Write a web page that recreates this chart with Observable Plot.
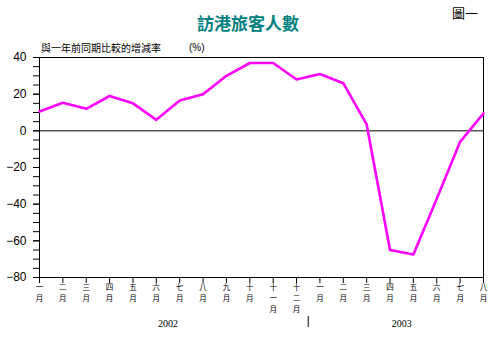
<!DOCTYPE html>
<html>
<head>
<meta charset="utf-8">
<script src="https://cdn.jsdelivr.net/npm/d3@7"></script>
<script src="https://cdn.jsdelivr.net/npm/@observablehq/plot@0.6"></script>
<style>
  html, body { margin: 0; padding: 0; background: #fff; }
  #wrap { position: relative; width: 500px; height: 352px; overflow: hidden; }
  .lbl { position: absolute; white-space: nowrap; line-height: 1; }
</style>
</head>
<body>
<div id="wrap">
  <div class="lbl" style="left:197px;top:10px;font:bold 17px 'Noto Sans CJK TC';color:#008080;letter-spacing:0px">訪港旅客人數</div>
  <div class="lbl" style="left:452px;top:3px;font:13px 'Noto Sans CJK TC';color:#000">圖一</div>
  <div class="lbl" style="left:41px;top:40px;font:10px 'Noto Sans CJK TC';color:#000">與一年前同期比較的增減率</div>
  <div class="lbl" style="left:189px;top:42px;font:10px 'Liberation Sans';color:#000">(%)</div>
</div>
<script>
// Data
const monthLabels = ["一月","二月","三月","四月","五月","六月","七月","八月","九月","十月","十一月","十二月",
                     "一月","二月","三月","四月","五月","六月","七月","八月"];
const growthRate = [10.5, 15.3, 12, 19, 15, 6, 16.5, 20, 30, 37, 37, 28,
                    31, 26, 3.5, -65, -67.5, -37, -6, 9.5];
const years = ["2002", "2003"];
const monthsPerYear = [12, 8];
const yTickLabels = [-80, -60, -40, -20, 0, 20, 40];

const data = growthRate.map((v, i) => ({i, v}));
const n = growthRate.length;
const yMin = d3.min(yTickLabels), yMax = d3.max(yTickLabels);

// year label positions (centers of each year's months) and separators
let start = 0;
const yearData = years.map((y, k) => {
  const c = start + (monthsPerYear[k] - 1) / 2;
  start += monthsPerYear[k];
  return {year: y, x: c};
});
const separators = [monthsPerYear[0] - 0.5];

const chart = Plot.plot({
  width: 500,
  height: 352,
  marginLeft: 39,
  marginRight: 17,
  marginTop: 57,
  marginBottom: 75,
  style: {background: "transparent", color: "#000", fontFamily: "'Liberation Sans', Arial, sans-serif"},
  x: {domain: [0, n - 1], label: null},
  y: {domain: [yMin, yMax], label: null},
  marks: [
    Plot.axisY({ticks: d3.range(yMin, yMax + 1, 5), tickFormat: () => "", tickSize: 6, stroke: "#000", label: null}),
    Plot.axisY({ticks: yTickLabels, tickSize: 6, tickPadding: 7, fontSize: 12, stroke: "#000", label: null,
                fontFamily: "'Liberation Sans', Arial, sans-serif"}),
    Plot.axisX({ticks: d3.range(n), tickSize: 6, tickPadding: -1, fontSize: 7.5, lineHeight: 1.46, label: null,
                fontFamily: "'Noto Sans CJK TC'", stroke: "#000",
                tickFormat: (d) => monthLabels[d].split("").join("\n")}),
    Plot.frame({stroke: "#000", strokeWidth: 1}),
    Plot.ruleY([0], {stroke: "#000", strokeWidth: 1}),
    Plot.line(data, {x: "i", y: "v", stroke: "#ff00ff", strokeWidth: 2.6}),
    Plot.text(yearData, {x: "x", y: () => yMin, text: "year", dy: 46, fontSize: 10,
                         fontFamily: "'Liberation Serif', 'Times New Roman', serif", fill: "#000"}),
    Plot.ruleX(separators, {y1: () => yMin, y2: () => yMin, insetTop: 39, insetBottom: -50,
                            stroke: "#000", strokeWidth: 1})
  ]
});
chart.style.position = "absolute";
chart.style.left = "0";
chart.style.top = "0";
document.getElementById("wrap").prepend(chart);
</script>
</body>
</html>
